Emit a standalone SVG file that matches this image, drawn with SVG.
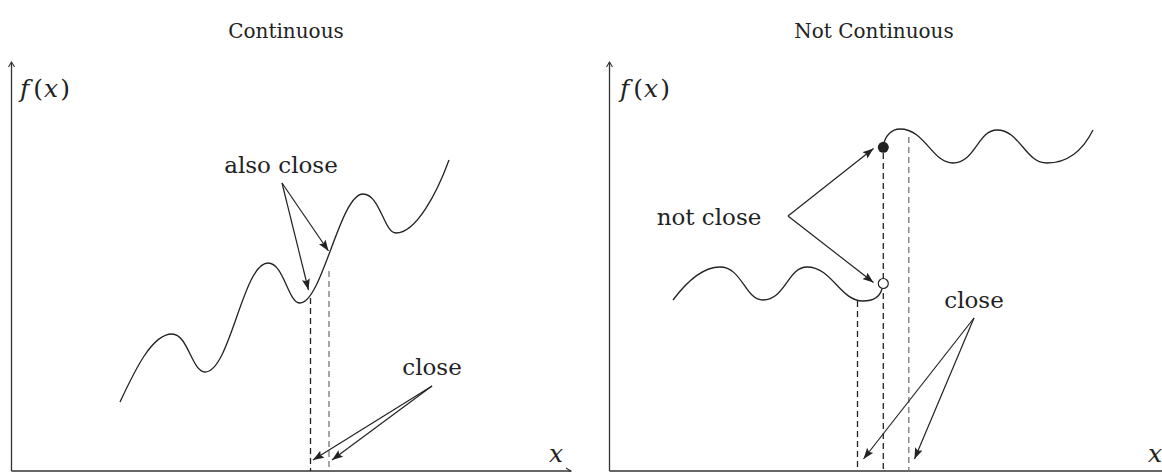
<svg xmlns="http://www.w3.org/2000/svg" width="1162" height="472" viewBox="0 0 1162 472">
<style>
.t{font-family:"DejaVu Serif","Liberation Serif",serif;fill:#222}
.title{font-size:20px}
.lbl{font-size:23px}
.m{font-family:"DejaVu Serif","Liberation Serif",serif;font-style:italic;font-size:25px;fill:#222}
.up{font-style:normal}
.axis{stroke:#333;stroke-width:1.3;fill:none}
.curve{stroke:#222;stroke-width:1.3;fill:none}
.dk{stroke:#222;stroke-width:1.3;stroke-dasharray:6 4;fill:none}
.gr{stroke:#777;stroke-width:1.3;stroke-dasharray:6 4;fill:none}
.arr{stroke:#222;stroke-width:1.2;fill:none;marker-end:url(#ah)}
</style>
<defs>
<marker id="ah" markerUnits="userSpaceOnUse" markerWidth="14" markerHeight="10" refX="11" refY="4" orient="auto">
<path d="M0,0 L11,4 L0,8 L2,4 z" fill="#222"/>
</marker>
<marker id="ax" markerUnits="userSpaceOnUse" markerWidth="10" markerHeight="10" refX="6" refY="4" orient="auto">
<path d="M1,1 L6,4 L1,7" fill="none" stroke="#333" stroke-width="1.1"/>
</marker>
</defs>

<g id="left-panel">
<text class="t title" x="286" y="38" text-anchor="middle">Continuous</text>
<g id="left-axes">
<line class="axis" x1="11.5" y1="471" x2="11.5" y2="62" marker-end="url(#ax)"/>
<line class="axis" x1="11.5" y1="471" x2="571" y2="471" marker-end="url(#ax)"/>
<text class="m" x="20" y="97">f<tspan class="up" dx="4">(</tspan><tspan dx="1">x</tspan><tspan class="up" dx="2">)</tspan></text>
<text class="m" x="549" y="462">x</text>
</g>
<g id="left-curve">
<path class="curve" d="M120,402 C135,370 152,334 172,334 C188,334 192,372 205,372 C230,372 243,263 268,263 C284,263 288,303 300,303 C322,303 340,194 363,194 C380,194 384,233 396,233 C416,233 437,193 449,160"/>
<line class="dk" x1="310.5" y1="298" x2="310.5" y2="471"/>
<line class="gr" x1="329" y1="271" x2="329" y2="471"/>
</g>
<g id="also-close">
<text class="t lbl" x="281" y="173" text-anchor="middle">also close</text>
</g>
<g id="close-left">
<text class="t lbl" x="432" y="375" text-anchor="middle">close</text>
</g>
</g>

<g id="right-panel">
<text class="t title" x="874" y="38" text-anchor="middle">Not Continuous</text>
<g id="right-axes">
<line class="axis" x1="609.5" y1="471" x2="609.5" y2="62" marker-end="url(#ax)"/>
<line class="axis" x1="609.5" y1="471" x2="1170" y2="471" marker-end="url(#ax)"/>
<text class="m" x="620" y="97">f<tspan class="up" dx="4">(</tspan><tspan dx="1">x</tspan><tspan class="up" dx="2">)</tspan></text>
<text class="m" x="1148" y="462">x</text>
</g>
<g id="right-curves">
<line class="dk" x1="857.5" y1="301" x2="857.5" y2="471"/>
<line class="dk" x1="883.3" y1="153" x2="883.3" y2="471"/>
<line class="gr" x1="908.8" y1="137" x2="908.8" y2="471"/>
<path class="curve" d="M883,147 C885,135 892,129 900,129 C925,129 932,163 953,163 C975,163 978,130 997,130 C1020,130 1025,163 1047,163 C1068,163 1083,150 1093,130"/>
<path class="curve" d="M673,300 C688,280 703,267 720,267 C742,267 745,300 763,300 C785,300 788,267 807,267 C832,267 840,301 863,301 C874,301 880,296 882,289"/>
<circle cx="883.3" cy="147.3" r="5.5" fill="#222"/>
<circle cx="883.3" cy="283.5" r="5" fill="#fff" stroke="#222" stroke-width="1.2"/>
</g>
<g id="not-close">
<text class="t lbl" x="709" y="225" text-anchor="middle">not close</text>
</g>
<g id="close-right">
<text class="t lbl" x="974" y="308" text-anchor="middle">close</text>
</g>
</g>

<g id="connectors">
<line class="arr" x1="282" y1="183" x2="308.5" y2="290"/>
<line class="arr" x1="282" y1="183" x2="328.5" y2="251"/>
<line class="arr" x1="432" y1="386" x2="313" y2="460"/>
<line class="arr" x1="432" y1="386" x2="332" y2="460"/>
<line class="arr" x1="788" y1="216" x2="873.5" y2="148.5"/>
<line class="arr" x1="788" y1="216" x2="873.5" y2="282.5"/>
<line class="arr" x1="974" y1="318" x2="863.5" y2="459"/>
<line class="arr" x1="974" y1="318" x2="914.5" y2="459"/>
</g>
</svg>
